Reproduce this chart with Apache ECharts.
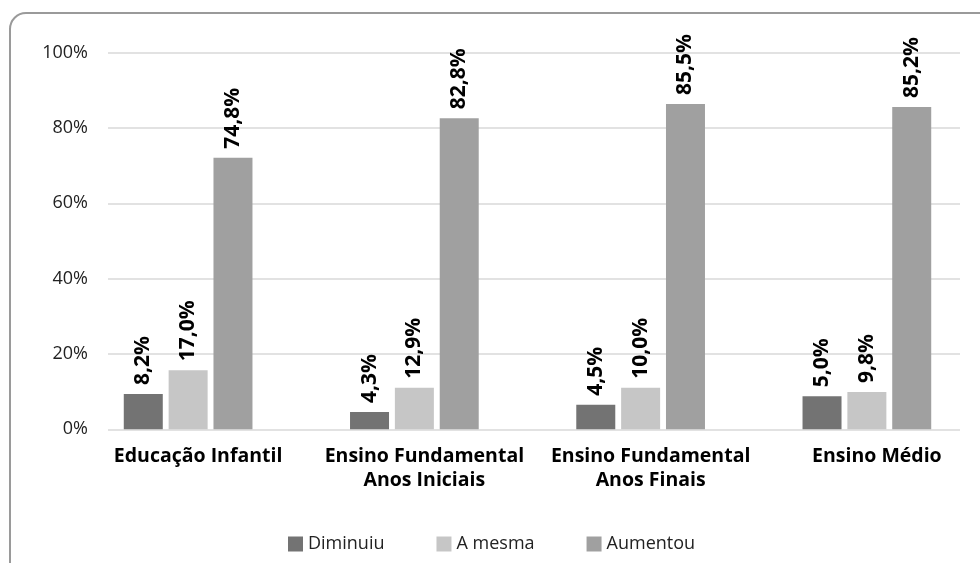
<!DOCTYPE html>
<html>
<head>
<meta charset="utf-8">
<script src="https://cdn.jsdelivr.net/npm/echarts@6/dist/echarts.min.js"></script>
<style>
  html, body { margin: 0; padding: 0; background: #fff; }
  #main { width: 980px; height: 563px; }
</style>
</head>
<body>
<div id="main"></div>
<script>
// categorias e valores (altura das barras)
var categorias = ['Educação Infantil', 'Ensino Fundamental\nAnos Iniciais', 'Ensino Fundamental\nAnos Finais', 'Ensino Médio']
var diminuiu = [9.4, 4.6, 6.5, 8.8]
var aMesma = [15.7, 11.0, 11.0, 9.9]
var aumentou = [72.1, 82.6, 86.4, 85.6]
// rotulos impressos sobre as barras
var rotDiminuiu = ['8,2%', '4,3%', '4,5%', '5,0%']
var rotAMesma = ['17,0%', '12,9%', '10,0%', '9,8%']
var rotAumentou = ['74,8%', '82,8%', '85,5%', '85,2%']
var yTicks = [0, 20, 40, 60, 80, 100]

var fonte = '"Open Sans", "Noto Sans", sans-serif'

function serie (nome, dados, rotulos, cor) {
  return {
    name: nome,
    type: 'bar',
    xAxisIndex: 1,
    yAxisIndex: 1,
    barWidth: 39,
    barGap: '15%',
    itemStyle: { color: cor },
    label: {
      show: true,
      position: 'top',
      rotate: 90,
      align: 'left',
      verticalAlign: 'middle',
      distance: 9,
      fontFamily: fonte,
      fontWeight: 'bold',
      fontSize: 21,
      color: '#000',
      formatter: function (p) { return rotulos[p.dataIndex] }
    },
    data: dados
  }
}

var myChart = echarts.init(document.getElementById('main'))
var option = {
  animation: false,
  textStyle: { fontFamily: fonte },
  graphic: [{
    type: 'rect',
    shape: { x: 10, y: 13, width: 1000, height: 620, r: 16 },
    style: { fill: 'none', stroke: '#9a9a9a', lineWidth: 2 },
    silent: true
  }],
  legend: {
    left: 283,
    top: 530,
    itemWidth: 15,
    itemHeight: 15,
    itemGap: 52,
    icon: 'rect',
    textStyle: { fontFamily: fonte, fontSize: 18, color: '#222' },
    data: ['Diminuiu', 'A mesma', 'Aumentou']
  },
  grid: [
    { left: 108, right: 20, top: 52.7, bottom: 133.7 },
    { left: 75, width: 918, top: 52.7, bottom: 133.7 }
  ],
  xAxis: [
    { gridIndex: 0, type: 'category', data: categorias, show: false },
    {
      gridIndex: 1,
      type: 'category',
      data: categorias,
      axisLine: { show: false },
      axisTick: { show: false },
      axisLabel: {
        margin: 15,
        fontFamily: fonte,
        fontWeight: 'bold',
        fontSize: 19.5,
        lineHeight: 24,
        color: '#000',
        padding: [0, 0, 0, 20],
        interval: 0
      }
    }
  ],
  yAxis: [
    {
      gridIndex: 0,
      type: 'value',
      min: yTicks[0],
      max: yTicks[yTicks.length - 1],
      interval: 20,
      axisLine: { show: false },
      axisTick: { show: false },
      splitLine: { lineStyle: { color: '#d9d9d9', width: 1.5 } },
      axisLabel: {
        margin: 20,
        fontFamily: fonte,
        fontSize: 18,
        color: '#222',
        formatter: '{value}%'
      }
    },
    { gridIndex: 1, type: 'value', min: 0, max: 100, show: false }
  ],
  series: [
    serie('Diminuiu', diminuiu, rotDiminuiu, '#737373'),
    serie('A mesma', aMesma, rotAMesma, '#c6c6c6'),
    serie('Aumentou', aumentou, rotAumentou, '#a0a0a0')
  ]
}
myChart.setOption(option)
</script>
</body>
</html>
